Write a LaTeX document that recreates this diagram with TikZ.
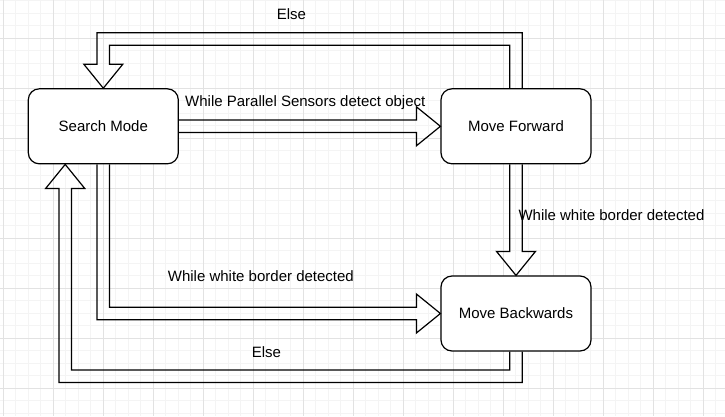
\documentclass[tikz,border=0pt]{standalone}
\usepackage{fontspec}
\setmainfont{Liberation Sans}
\usetikzlibrary{calc}
\begin{document}
\begin{tikzpicture}[x=1pt,y=-1pt,
  state/.style={draw=black,line width=1.2pt,fill=white,rounded corners=11pt,
    minimum width=150pt,minimum height=75pt,inner sep=0pt,
    font=\fontsize{15}{18}\selectfont},
  flex/.style={draw=black,line width=1.2pt,line join=miter},
  lbl/.style={anchor=base west,inner sep=0pt,font=\fontsize{15}{18}\selectfont},
  minorgrid/.style={draw={rgb,255:red,244;green,244;blue,244},line width=0.9pt},
  majorgrid/.style={draw={rgb,255:red,226;green,226;blue,226},line width=0.9pt}]
\useasboundingbox (0,0) rectangle (725,416);
\fill[white] (0,0) rectangle (725,416);
% grid
\foreach \i in {0,...,58} {\draw[minorgrid] (3.3+12.5*\i,0) -- (3.3+12.5*\i,416);}
\foreach \i in {0,...,33} {\draw[minorgrid] (0,0.8+12.5*\i) -- (725,0.8+12.5*\i);}
\foreach \i in {0,...,14} {\draw[majorgrid] (3.3+50*\i,0) -- (3.3+50*\i,416);}
\foreach \i in {0,...,7} {\draw[majorgrid] (0,38.3+50*\i) -- (725,38.3+50*\i);}
% nodes
\node[state] (sm) at (103.3,126.3) {Search Mode};
\node[state] (mf) at (516,126.3) {Move Forward};
\node[state] (mb) at (516,313.5) {Move Backwards};
\def\h{6.25}\def\H{19.5}\def\L{24}
\coordinate (ct) at (0,39);
\coordinate (cb) at (0,376.3);
\coordinate (se) at ($(sm.south west)+(37.5,0)$);
% Search -> Forward
\draw[flex] ($(sm.east)+(0,-\h)$) -- ($(mf.west)+(-\L,-\h)$) -- ($(mf.west)+(-\L,-\H)$)
  -- (mf.west) -- ($(mf.west)+(-\L,\H)$) -- ($(mf.west)+(-\L,\h)$) -- ($(sm.east)+(0,\h)$);
% Forward -> Backwards
\draw[flex] ($(mf.south)+(-\h,0)$) -- ($(mb.north)+(-\h,-\L)$) -- ($(mb.north)+(-\H,-\L)$)
  -- (mb.north) -- ($(mb.north)+(\H,-\L)$) -- ($(mb.north)+(\h,-\L)$) -- ($(mf.south)+(\h,0)$);
% Forward -> Search (Else)
\draw[flex] ($(mf.north)+(\h,0)$) -- ($(mf.north |- ct)+(\h,-\h)$) -- ($(sm.north |- ct)+(-\h,-\h)$)
  -- ($(sm.north)+(-\h,-\L)$) -- ($(sm.north)+(-\H,-\L)$) -- (sm.north)
  -- ($(sm.north)+(\H,-\L)$) -- ($(sm.north)+(\h,-\L)$) -- ($(sm.north |- ct)+(\h,\h)$)
  -- ($(mf.north |- ct)+(-\h,\h)$) -- ($(mf.north)+(-\h,0)$);
% Search -> Backwards
\draw[flex] ($(sm.south)+(\h,0)$) -- ($(sm.south |- mb.west)+(\h,-\h)$) -- ($(mb.west)+(-\L,-\h)$)
  -- ($(mb.west)+(-\L,-\H)$) -- (mb.west) -- ($(mb.west)+(-\L,\H)$) -- ($(mb.west)+(-\L,\h)$)
  -- ($(sm.south |- mb.west)+(-\h,\h)$) -- ($(sm.south)+(-\h,0)$);
% Backwards -> Search (Else)
\draw[flex] ($(mb.south)+(\h,0)$) -- ($(mb.south |- cb)+(\h,\h)$) -- ($(se |- cb)+(-\h,\h)$)
  -- ($(se)+(-\h,\L)$) -- ($(se)+(-\H,\L)$) -- (se) -- ($(se)+(\H,\L)$) -- ($(se)+(\h,\L)$)
  -- ($(se |- cb)+(\h,-\h)$) -- ($(mb.south |- cb)+(-\h,-\h)$) -- ($(mb.south)+(-\h,0)$);
% labels
\node[lbl] (l1) at (185,106.7) {While Parallel Sensors detect object};
\node[lbl] (l2) at (518.3,220) {While white border detected};
\node[lbl] (l3) at (167.7,281.7) {While white border detected};
\node[lbl] (l4) at (276.7,19) {Else};
\node[lbl] (l5) at (251.7,357.3) {Else};
\end{tikzpicture}
\end{document}
